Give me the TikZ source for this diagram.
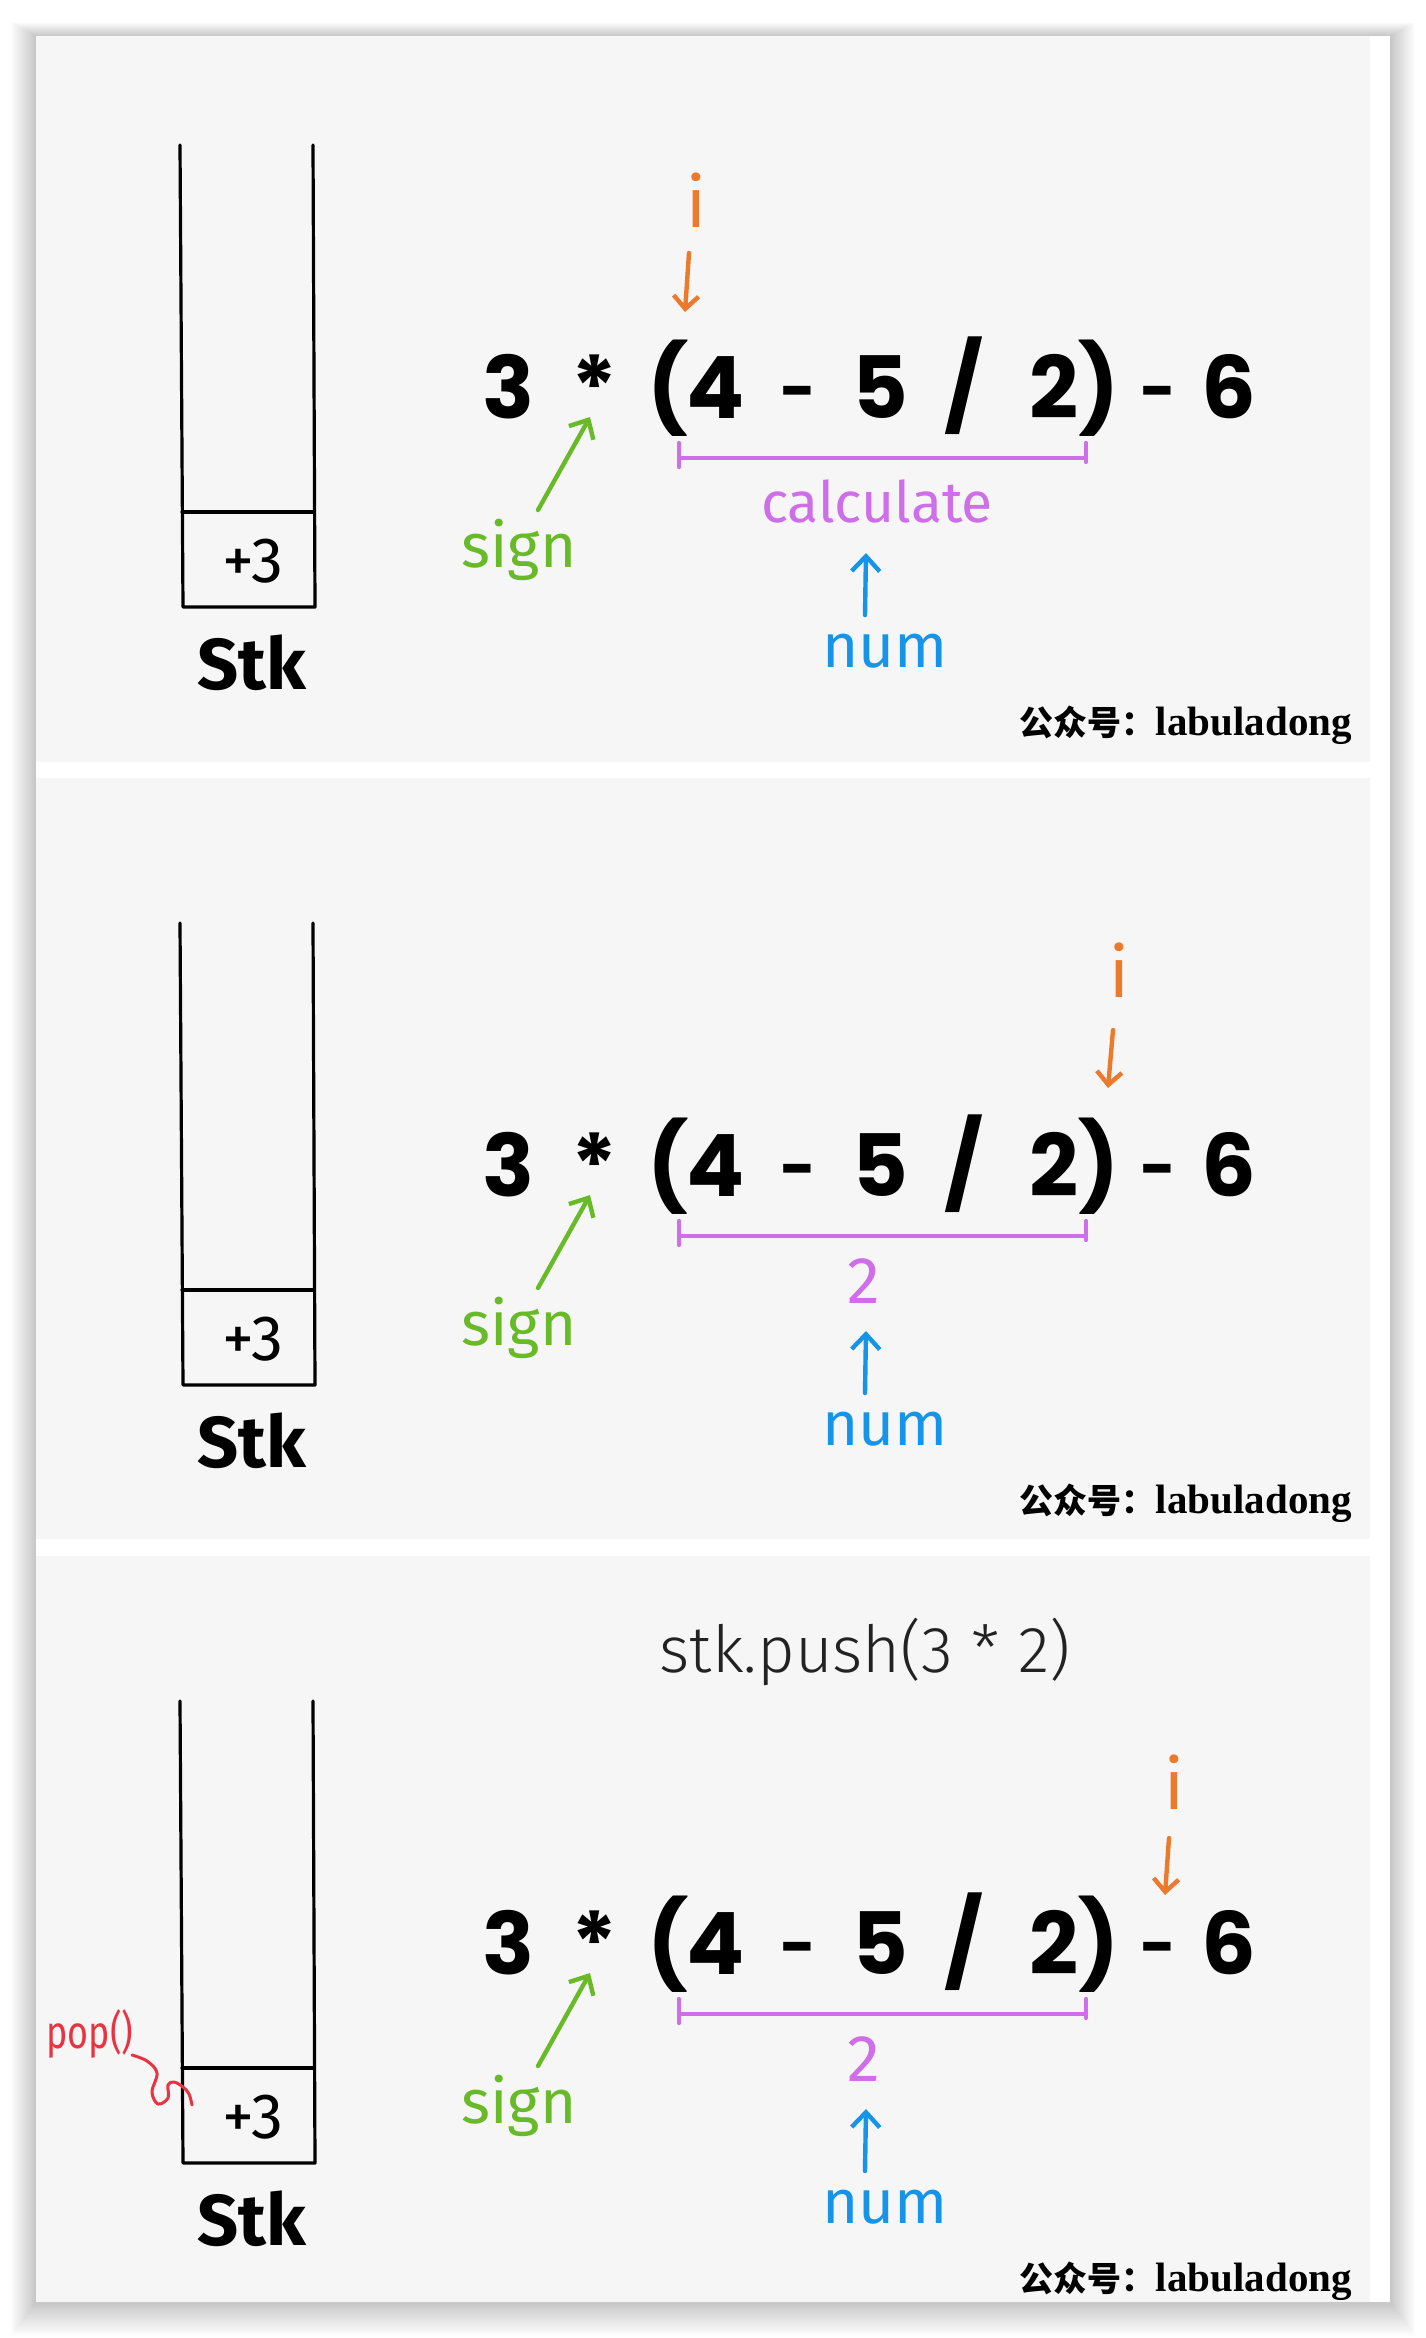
\documentclass[tikz,border=0pt]{standalone}
\usepackage{fontspec}
\setmainfont{Liberation Serif}
\newfontfamily\exprfont{Poppins}
\newfontfamily\handfont{Fira Sans}
\newfontfamily\handnarrow[FakeStretch=0.78]{Fira Sans}
\newfontfamily\pushfont{Fira Sans Light}
\newfontfamily\cjkfont{Noto Sans CJK SC}
\newfontfamily\wmfont{Liberation Serif}
\usetikzlibrary{arrows.meta}
\definecolor{panelbg}{RGB}{247,246,246}
\definecolor{iorange}{RGB}{236,122,44}
\definecolor{sgreen}{RGB}{104,186,40}
\definecolor{cpurple}{RGB}{206,110,232}
\definecolor{nblue}{RGB}{22,148,232}
\definecolor{pred}{RGB}{232,52,64}
\tikzset{
  stackline/.style={line width=3.2pt, line cap=round, line join=round, black},
  expr/.style={font=\exprfont\bfseries\fontsize{86}{86}\selectfont, inner sep=0pt, anchor=base},
  exprdash/.style={font=\exprfont\bfseries\fontsize{62}{62}\selectfont, inner sep=0pt, anchor=base},
  hand/.style={inner sep=0pt},
  harrow/.style={line width=4.4pt, line cap=round, line join=round, -{Straight Barb[length=15pt,width=28pt]}},
  bracketline/.style={line width=4.2pt, cpurple, line cap=round},
}
\newcommand{\panelbase}[2]{%
\begin{scope}[shift={(0,#2)}]
  \draw[stackline] (180,145) -- (183,607) -- (315,607) -- (313,145);
  \draw[stackline] (182,512) -- (314,512);
  \node[hand, font=\handfont\fontsize{64}{64}\selectfont] (plus#1) at (253,561) {+3};
  \node[hand, font=\handfont\bfseries\fontsize{72}{72}\selectfont, anchor=base] (stk#1) at (252,689) {Stk};
  \node[expr] (ea#1) at (509,418) {3};
  \node[expr] (eb#1) at (594,418) {*};
  \node[expr] (ec#1) at (668,418) {(};
  \node[expr] (ed#1) at (716,418) {4};
  \node[exprdash] (ee#1) at (798,412) {-};
  \node[expr] (ef#1) at (880,418) {5};
  \node[expr] (eg#1) at (964,418) {/};
  \node[expr] (eh#1) at (1054,418) {2};
  \node[expr] (ei#1) at (1099,418) {)};
  \node[exprdash] (ej#1) at (1158,412) {-};
  \node[expr] (ek#1) at (1229,418) {6};
  \coordinate (sgtail#1) at (538,510);
  \coordinate (sgtip#1) at (590,417);
  \draw[harrow, sgreen] (sgtail#1) -- (sgtip#1);
  \node[hand, text=sgreen, font=\handfont\fontsize{62}{62}\selectfont, anchor=base] (sign#1) at (519,567) {sign};
  \coordinate (bl#1) at (679,458);
  \coordinate (br#1) at (1086,458);
  \draw[bracketline] (679,443) -- (679,467);
  \draw[bracketline] (bl#1) -- (br#1);
  \draw[bracketline] (1086,443) -- (1086,462);
  \coordinate (ntail#1) at (865,615);
  \coordinate (ntip#1) at (866,553);
  \draw[harrow, nblue] (ntail#1) -- (ntip#1);
  \node[hand, text=nblue, font=\handfont\fontsize{62}{62}\selectfont, anchor=base] (num#1) at (885,667) {num};
  \node[anchor=base east, inner sep=0pt] (wm#1) at (1352,735) {\cjkfont\bfseries\fontsize{34}{34}\selectfont 公众号：\wmfont\fontsize{41}{41}\selectfont labuladong};
\end{scope}}
\begin{document}
\begin{tikzpicture}[x=1pt,y=-1pt]
\useasboundingbox (0,0) rectangle (1426,2338);
\fill[white] (0,0) rectangle (1426,2338);
\foreach \k in {1,...,28}
  \fill[black, opacity=0.009] (36-0.9*\k,36-0.5*\k) rectangle (1390+0.9*\k,2302+1.2*\k);
\fill[white] (36,36) rectangle (1390,2302);
\fill[panelbg] (36,36) rectangle (1370,762);
\fill[panelbg] (36,778) rectangle (1370,1539);
\fill[panelbg] (36,1556) rectangle (1370,2302);

% panel 1
\panelbase{A}{0}
\node[hand, text=iorange, font=\handfont\fontsize{70}{70}\selectfont] (iA) at (696,200) {i};
\coordinate (itA) at (689,253);
\coordinate (ipA) at (685,312);
\draw[harrow, iorange, -{Straight Barb[length=13pt,width=25pt]}] (itA) -- (ipA);
\node[hand, text=cpurple, font=\handfont\fontsize{57}{57}\selectfont, anchor=base] (calc) at (877,522) {calculate};

% panel 2
\panelbase{B}{778}
\node[hand, text=iorange, font=\handfont\fontsize{70}{70}\selectfont] (iB) at (1119,970) {i};
\coordinate (itB) at (1113,1030);
\coordinate (ipB) at (1108,1088);
\draw[harrow, iorange, -{Straight Barb[length=13pt,width=25pt]}] (itB) -- (ipB);
\node[hand, text=cpurple, font=\handfont\fontsize{66}{66}\selectfont] (twoB) at (864,1281) {2};

% panel 3
\begin{scope}
\clip (36,1556) rectangle (1370,2302);
\panelbase{C}{1556}
\end{scope}
\node[anchor=base, inner sep=0pt, text={rgb,255:red,34;green,34;blue,34}, font=\pushfont\fontsize{65}{65}\selectfont] (push) at (865,1672) {stk.push(3 * 2)};
\node[hand, text=iorange, font=\handfont\fontsize{70}{70}\selectfont] (iC) at (1174,1782) {i};
\coordinate (itC) at (1169,1838);
\coordinate (ipC) at (1165,1895);
\draw[harrow, iorange, -{Straight Barb[length=13pt,width=25pt]}] (itC) -- (ipC);
\node[hand, text=cpurple, font=\handfont\fontsize{66}{66}\selectfont] (twoC) at (864,2059) {2};
\node[hand, text=pred, font=\handnarrow\fontsize{46}{46}\selectfont, anchor=base] (pop) at (90,2048) {pop()};
\coordinate (popstart) at (132,2055);
\coordinate (popend) at (192,2105);
\draw[pred, line width=3pt, line cap=round, line join=round] plot[smooth, tension=0.6] coordinates {(popstart) (147,2061) (157,2073) (152,2092) (158,2104) (168,2098) (168,2085) (174,2082) (183,2087) (189,2094) (popend)};
\end{tikzpicture}
\end{document}
